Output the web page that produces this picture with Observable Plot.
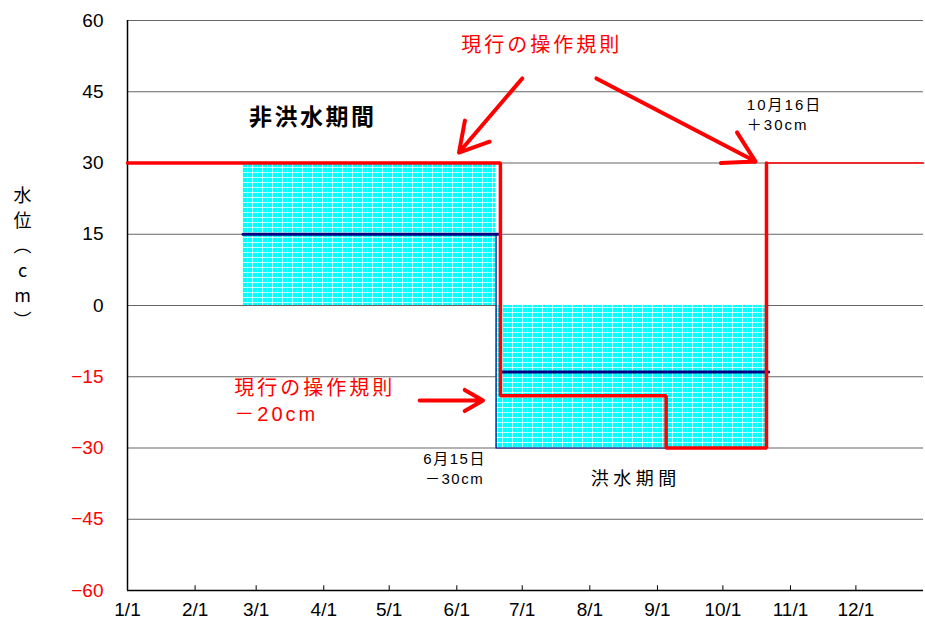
<!DOCTYPE html>
<html><head><meta charset="utf-8">
<script src="https://cdn.jsdelivr.net/npm/d3@7"></script>
<script src="https://cdn.jsdelivr.net/npm/@observablehq/plot@0.6"></script>
<style>body{margin:0;background:#fff;} #chart{width:925px;height:626px;}</style>
</head><body><div id="chart"></div>
<script>
const D = s => new Date(s + "T00:00:00Z");

// axes
const gridValues = [60, 45, 30, 15, 0, -15, -30, -45];
const posTicks = [0, 15, 30, 45, 60];
const negTicks = [-15, -30, -45, -60];
const monthTicks = ["2001-01-01","2001-02-01","2001-03-01","2001-04-01","2001-05-01","2001-06-01",
                    "2001-07-01","2001-08-01","2001-09-01","2001-10-01","2001-11-01","2001-12-01"];

// cyan bands (proposed operation range)
const bandStart = ["2001-02-23", "2001-06-19"];
const bandEnd   = ["2001-06-19", "2001-10-21"];
const bandLow   = [0, -30];
const bandHigh  = [30, 0];

// navy centre lines
const navy1Dates = ["2001-02-23", "2001-06-20"];
const navy1Values = [15, 15];
const navy2Dates = ["2001-06-21", "2001-10-22"];
const navy2Values = [-14, -14];
const navyEdgeDates = ["2001-06-19", "2001-06-19", "2001-09-05"];
const navyEdgeValues = [15, -30, -30];

// red current rule
const ruleDates  = ["2001-01-01","2001-06-21","2001-06-21","2001-09-05","2001-09-05","2001-10-21","2001-10-21"];
const ruleValues = [30, 30, -19, -19, -30, -30, 30];
const ruleTailDates = ["2001-10-21", "2002-01-01"];
const ruleTailValues = [30, 30];

// arrows
const arrowFromDates  = ["2001-07-01", "2001-08-04", "2001-05-15"];
const arrowFromValues = [47.8, 47.8, -20];
const arrowToDates    = ["2001-06-02", "2001-10-16", "2001-06-13"];
const arrowToValues   = [32.2, 30.3, -20];

// annotations
const redTitleText = ["現行の操作規則"];
const redTitleDates = ["2001-07-10"];
const redTitleValues = [54.7];

const redNoteText = ["現行の操作規則\n－20cm"];
const redNoteDates = ["2001-02-19"];
const redNoteValues = [-19.8];

const boldText = ["非洪水期間"];
const boldDates = ["2001-03-27"];
const boldValues = [39.6];

const floodText = ["洪水期間"];
const floodDates = ["2001-08-22"];
const floodValues = [-36.6];

const smallRightText = ["10月16日\n＋30cm"];
const smallRightDates = ["2001-10-12"];
const smallRightValues = [40.4];

const smallMidText = ["6月15日\n－30cm"];
const smallMidDates = ["2001-05-31"];
const smallMidValues = [-34.2];

const yLabelText = ["水\n位\n︵\nc\nm\n︶"];
const yLabelValues = [10.4];

const bands = bandStart.map((s, i) => ({x1: D(s), x2: D(bandEnd[i]), y1: bandLow[i], y2: bandHigh[i]}));
const pts = (ds, vs) => ds.map((s, i) => ({x: D(s), y: vs[i]}));
const arrows = arrowFromDates.map((s, i) => ({x1: D(s), y1: arrowFromValues[i], x2: D(arrowToDates[i]), y2: arrowToValues[i]}));
const txt = (t, ds, vs) => t.map((s, i) => ({t: s, x: D(ds[i]), y: vs[i]}));

const months = monthTicks.map(D);
const xStart = D("2001-01-01"), xEnd = D("2002-01-01");

const chart = Plot.plot({
  width: 925, height: 626,
  marginLeft: 127, marginRight: 2, marginTop: 20, marginBottom: 36,
  style: {fontFamily: "'Liberation Sans', 'Noto Sans CJK JP', sans-serif", fontSize: "19px", background: "white", color: "black"},
  x: {type: "utc", domain: [xStart, xEnd]},
  y: {domain: [-60, 60]},
  marks: [
    Plot.ruleY(gridValues, {stroke: "#666", strokeWidth: 1.2}),
    Plot.rect(bands, {x1: "x1", x2: "x2", y1: "y1", y2: "y2", fill: "url(#cyanpat)"}),
    Plot.ruleY([-60], {stroke: "black", strokeWidth: 1.5}),
    Plot.ruleX([xStart], {y1: -60, y2: 60, stroke: "black", strokeWidth: 1.5}),
    Plot.ruleX(months.slice(1), {y1: -60, y2: -59, stroke: "black"}),
    Plot.axisX(months, {tickSize: 0, tickPadding: 12, tickFormat: d3.utcFormat("%-m/%-d"), fontSize: 19, label: null}),
    Plot.axisY(posTicks, {tickSize: 0, tickPadding: 24, fontSize: 19, fill: "black", label: null}),
    Plot.axisY(negTicks, {tickSize: 0, tickPadding: 24, fontSize: 19, fill: "#ff0000", label: null}),
    Plot.line(pts(navyEdgeDates, navyEdgeValues), {x: "x", y: "y", stroke: "#000080", strokeWidth: 1.2}),
    Plot.line(pts(navy1Dates, navy1Values), {x: "x", y: "y", stroke: "#000080", strokeWidth: 3}),
    Plot.line(pts(navy2Dates, navy2Values), {x: "x", y: "y", stroke: "#000080", strokeWidth: 3}),
    Plot.line(pts(ruleTailDates, ruleTailValues), {x: "x", y: "y", stroke: "#ff0000", strokeWidth: 1.5}),
    Plot.line(pts(ruleDates, ruleValues), {x: "x", y: "y", stroke: "#ff0000", strokeWidth: 3.5, strokeLinejoin: "miter"}),
    Plot.arrow(arrows, {x1: "x1", y1: "y1", x2: "x2", y2: "y2", stroke: "#ff0000", strokeWidth: 4, headLength: 13}),
    Plot.text(txt(redTitleText, redTitleDates, redTitleValues), {x: "x", y: "y", text: "t", fill: "#ff0000", fontSize: 20}),
    Plot.text(txt(redNoteText, redNoteDates, redNoteValues), {x: "x", y: "y", text: "t", fill: "#ff0000", fontSize: 20, textAnchor: "start", lineHeight: 1.3}),
    Plot.text(txt(boldText, boldDates, boldValues), {x: "x", y: "y", text: "t", fill: "black", fontSize: 23, fontWeight: "bold"}),
    Plot.text(txt(floodText, floodDates, floodValues), {x: "x", y: "y", text: "t", fill: "black", fontSize: 18}),
    Plot.text(txt(smallRightText, smallRightDates, smallRightValues), {x: "x", y: "y", text: "t", fill: "black", fontSize: 15, textAnchor: "start", lineHeight: 1.35}),
    Plot.text(txt(smallMidText, smallMidDates, smallMidValues), {x: "x", y: "y", text: "t", fill: "black", fontSize: 15, lineHeight: 1.3}),
    Plot.text(yLabelText.map((t, i) => ({t, x: xStart, y: yLabelValues[i]})), {x: "x", y: "y", text: "t", fill: "black", fontSize: 18, lineHeight: 1.39, dx: -105, fontFamily: "'Noto Sans CJK JP', sans-serif"})
  ]
});

const sel = d3.select(chart);
const defs = sel.insert("defs", ":first-child");
const pat = defs.append("pattern").attr("id", "cyanpat").attr("width", 5).attr("height", 5).attr("patternUnits", "userSpaceOnUse");
pat.append("rect").attr("width", 5).attr("height", 5).attr("fill", "#00ffff");
pat.append("rect").attr("y", 2).attr("width", 5).attr("height", 1).attr("fill", "#b8ffff");
pat.append("rect").attr("x", 2).attr("width", 1).attr("height", 5).attr("fill", "#b8ffff");
pat.append("rect").attr("x", 2).attr("y", 2).attr("width", 1).attr("height", 1).attr("fill", "#ffffff");

// letter spacing per annotation (keyed by text without line breaks)
const spacing = new Map([
  [redTitleText[0], 3],
  [redNoteText[0].replace(/\n/g, ""), 3],
  [boldText[0], 2.5],
  [floodText[0], 4.5],
  [smallRightText[0].replace(/\n/g, ""), 2],
  [smallMidText[0].replace(/\n/g, ""), 1.5]
]);
sel.selectAll("text").each(function () {
  const s = spacing.get(this.textContent);
  if (s != null) this.setAttribute("letter-spacing", s);
});

document.getElementById("chart").appendChild(chart);
</script>
</body></html>
